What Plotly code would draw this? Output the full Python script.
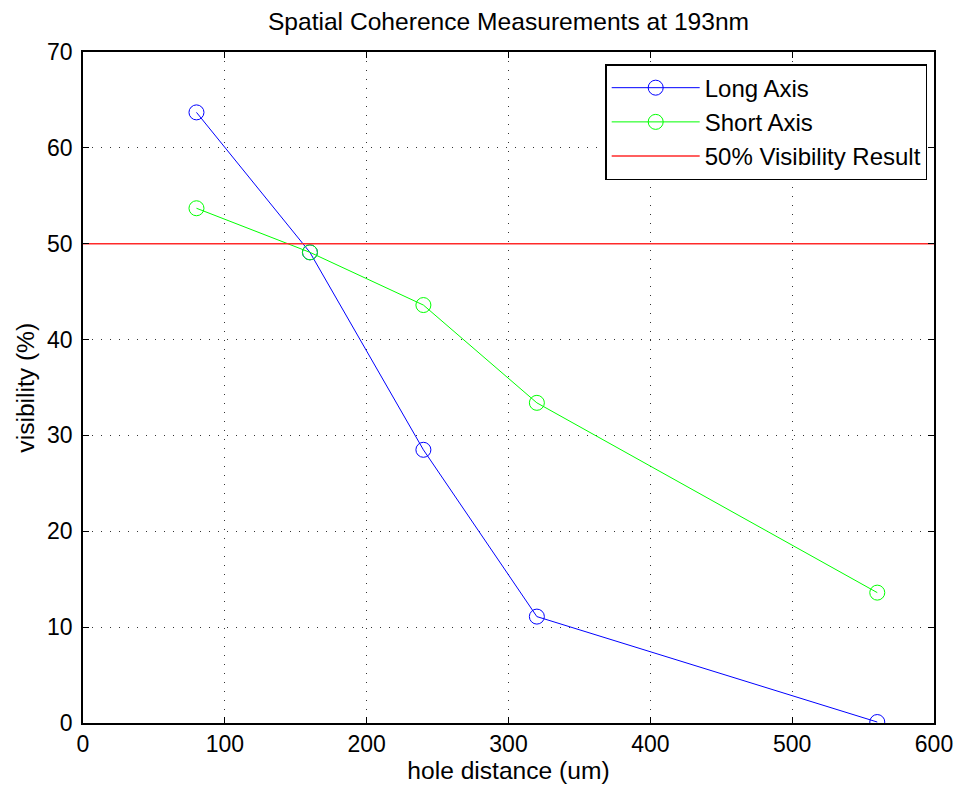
import plotly.graph_objects as go

hole_distance = [80, 160, 240, 320, 560]
long_axis = [63.7, 49.1, 28.5, 11.1, 0.1]
short_axis = [53.7, 49.1, 43.6, 33.4, 13.6]
ref_x = [0, 600]
ref_y = [50, 50]

fig = go.Figure()
fig.add_trace(go.Scatter(x=hole_distance, y=long_axis, mode="lines+markers", name="Long Axis",
                         line=dict(color="#0000ff", width=1),
                         marker=dict(symbol="circle-open", size=15, color="#0000ff", line=dict(width=1))))
fig.add_trace(go.Scatter(x=hole_distance, y=short_axis, mode="lines+markers", name="Short Axis",
                         line=dict(color="#00ff00", width=1),
                         marker=dict(symbol="circle-open", size=15, color="#00ff00", line=dict(width=1))))
fig.add_trace(go.Scatter(x=ref_x, y=ref_y, mode="lines", name="50% Visibility Result",
                         line=dict(color="#ff2a2a", width=1.5)))

axis_common = dict(showline=True, linecolor="black", linewidth=1.5, mirror="ticks",
                   ticks="inside", ticklen=6, tickcolor="black",
                   showgrid=True, gridcolor="#333333", griddash="1px,8px", gridwidth=1,
                   zeroline=False, tickfont=dict(size=23, color="black"))

fig.update_layout(
    width=965, height=791,
    paper_bgcolor="white", plot_bgcolor="white",
    font=dict(family="Liberation Sans, Arial, sans-serif", color="black"),
    margin=dict(l=83, r=22, t=52, b=62),
    title=dict(text="Spatial Coherence Measurements at 193nm", x=0.5, xanchor="center",
               xref="paper", y=0.973, yanchor="middle", font=dict(size=24.6)),
    xaxis=dict(range=[0, 600], dtick=100,
               title=dict(text="hole distance (um)", font=dict(size=24.6), standoff=4), **axis_common),
    yaxis=dict(range=[0, 70], dtick=10, ticklabelstandoff=4, **axis_common),
    legend=dict(x=0.992, y=0.982, xanchor="right", yanchor="top",
                bgcolor="white", bordercolor="black", borderwidth=1.5,
                font=dict(size=24), tracegroupgap=0, itemwidth=88),
    showlegend=True,
    annotations=[dict(text="visibility (%)", textangle=-90, xref="paper", yref="paper",
                      x=-0.068, y=0.5, xanchor="center", yanchor="middle",
                      showarrow=False, font=dict(size=24.6))],
)

fig.write_html("out.html", config={"displayModeBar": False},
               post_script="document.body.style.margin='0';document.body.style.padding='0';")
